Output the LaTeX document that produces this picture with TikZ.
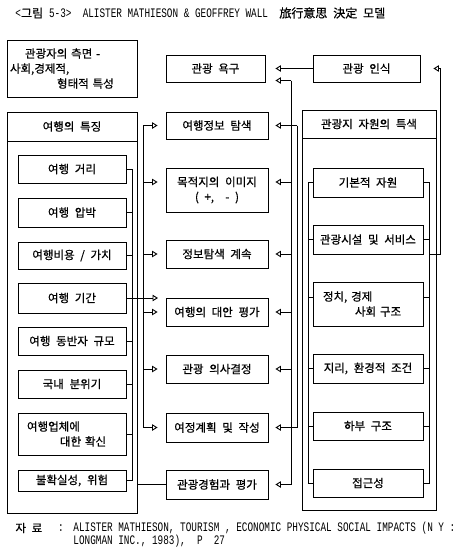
\documentclass[tikz,border=0pt]{standalone}
\usepackage{fontspec}
\usepackage{graphicx}
\setmainfont{Noto Sans CJK KR}[WordSpace=2.2, FakeBold=0.6]
\newfontfamily\latmono{Liberation Mono}
\usetikzlibrary{arrows.meta}
\newcommand{\latxt}[1]{\scalebox{0.72}[1]{\fontsize{13}{15}\selectfont\latmono #1}}

\begin{document}
\begin{tikzpicture}[x=1pt, y=-1pt, line width=0.9pt, font=\fontsize{11.5}{15}\selectfont,
  box/.style={draw, inner sep=0pt, align=center},
  lbox/.style={box, minimum width=108pt, minimum height=28pt},
  mbox/.style={box, minimum width=102pt, minimum height=28pt},
  rbox/.style={box, minimum width=110pt, minimum height=29pt},
  tip/.style={-{Triangle[open, length=5.5pt, width=6.5pt]}}]
  \useasboundingbox (0,0) rectangle (468,552);

  % title
  \node[anchor=west, inner sep=0pt, font=\fontsize{12}{14}\selectfont] (title) at (15,13)
    {\latxt{<}그림 \latxt{5-3>\ \ ALISTER MATHIESON \& GEOFFREY WALL\ \ }旅行意思 決定 모델};

  % top row
  \node[box, minimum width=130pt, minimum height=57pt, text width=124pt, align=left, inner xsep=3pt] (aspect) at (72,68.5)
    {\hspace*{15pt}관광자의 측면 -\\사회,경제적,\\\hspace*{47pt}형태적 특성};
  \node[box, minimum width=99pt, minimum height=27pt] (desire) at (215.5,68.5) {관광 욕구};
  \node[box, minimum width=107pt, minimum height=27pt] (percep) at (366.5,68.5) {관광 인식};

  % left column
  \node[box, minimum width=130pt, minimum height=401pt] (tframe) at (72,312.5) {};
  \node[box, minimum width=130pt, minimum height=29pt] (thead) at (72,126.5) {여행의 특징};
  \node[lbox] (t1) at (72,169) {여행 거리};
  \node[lbox, minimum height=29pt] (t2) at (72,212.5) {여행 압박};
  \node[lbox, minimum height=27pt] (t3) at (72,255.5) {여행비용 / 가치};
  \node[lbox, minimum height=30pt] (t4) at (72,298) {여행 기간};
  \node[lbox] (t5) at (72,341) {여행 동반자 규모};
  \node[lbox] (t6) at (72,384) {국내 분위기};
  \node[lbox, minimum height=42pt, text width=90pt, align=left, inner xsep=9pt] (t7) at (72,434)
    {여행업체에\\\hspace*{33pt}대한 확신};
  \node[lbox, minimum height=21pt] (t8) at (72,480.5) {불확실성, 위험};

  % middle column
  \node[mbox, minimum height=27pt] (m1) at (217,125.5) {여행정보 탐색};
  \node[mbox, minimum height=44pt] (m2) at (217,190) {목적지의 이미지\\( +,\ \ - )};
  \node[mbox] (m3) at (217,254) {정보탐색 계속};
  \node[mbox] (m4) at (217,312) {여행의 대안 평가};
  \node[mbox] (m5) at (217,369) {관광 의사결정};
  \node[mbox, minimum height=29pt] (m6) at (217,427.5) {여정계획 및 작성};
  \node[mbox, minimum height=29pt] (m7) at (217,484.5) {관광경험과 평가};

  % right column
  \node[box, minimum width=134pt, minimum height=400pt] (rframe) at (369,310) {};
  \node[box, minimum width=134pt, minimum height=28pt] (rhead) at (369,124) {관광지 자원의 특색};
  \node[rbox] (r1) at (368,182.5) {기본적 자원};
  \node[rbox] (r2) at (368,239.5) {관광시설 및 서비스};
  \node[rbox, minimum height=44pt, text width=90pt, align=left, inner xsep=10pt] (r3) at (368,304)
    {정치, 경제\\\hspace*{32pt}사회 구조};
  \node[rbox] (r4) at (368,368.5) {지리, 환경적 조건};
  \node[rbox, minimum height=28pt] (r5) at (368,426) {하부 구조};
  \node[rbox, minimum height=28pt] (r6) at (368,483) {접근성};

  % source
  \node[anchor=west, inner sep=0pt] (srclabel) at (15,528) {자 료};
  \node[inner sep=0pt] (srccolon) at (61,528) {\latxt{:}};
  \node[anchor=north west, inner sep=0pt, align=left, font=\fontsize{11}{11}\selectfont] (source) at (73,522)
    {\latxt{ALISTER MATHIESON, TOURISM , ECONOMIC PHYSICAL SOCIAL IMPACTS (N Y :}\\
     \latxt{LONGMAN INC., 1983),\ \ P\ \ 27}};

  % bus lines
  \coordinate (lbus) at (132,0);
  \coordinate (mlbus) at (143,0);
  \coordinate (abus) at (291,0);
  \coordinate (bbus) at (297,0);
  \coordinate (rbusL) at (308,0);
  \coordinate (rbusR) at (429,0);
  \coordinate (pjoin) at (440,254);
  \coordinate (t4tip) at (158,298);

  % travel features -> left bus
  \draw (t1.east) -- (t1.east -| lbus) -- (t8.east -| lbus) -- (t8.east);
  \draw (t2.east) -- (t2.east -| lbus);
  \draw (t3.east) -- (t3.east -| lbus);
  \draw (t5.east) -- (t5.east -| lbus);
  \draw (t6.east) -- (t6.east -| lbus);
  \draw (t7.east) -- (t7.east -| lbus);
  \draw[tip] (t4.east) -- (t4tip);
  \draw (tframe.east |- m7.west) -- (m7.west);

  % left bus -> decision steps
  \draw (m1.west -| mlbus) -- (m6.west -| mlbus);
  \draw[tip, shorten >=8pt] (m1.west -| mlbus) -- (m1.west);
  \draw[tip, shorten >=8pt] ([yshift=8pt]m2.west -| mlbus) -- ([yshift=8pt]m2.west);
  \draw[tip, shorten >=8pt] (m3.west -| mlbus) -- (m3.west);
  \draw[tip, shorten >=8pt] (m4.west -| mlbus) -- (m4.west);
  \draw[tip, shorten >=8pt] (m5.west -| mlbus) -- (m5.west);
  \draw[tip, shorten >=8pt] (m6.west -| mlbus) -- (m6.west);

  % perception and desire
  \draw[tip, shorten >=10pt] (percep.west) -- (desire.east);
  \draw[tip, shorten >=10pt] ([yshift=-12pt]desire.east -| abus) -- ([yshift=-12pt]desire.east);
  \draw ([yshift=-12pt]desire.east -| abus) -- (m7.east -| abus);
  \draw (m1.east -| bbus) -- (m6.east -| bbus);

  % right buses -> decision steps
  \draw[tip, shorten >=7pt] (m1.east -| bbus) -- (m1.east);
  \draw[tip, shorten >=7pt] ([yshift=8pt]m2.east -| abus) -- ([yshift=8pt]m2.east);
  \draw[tip, shorten >=7pt] (m3.east -| abus) -- (m3.east);
  \draw[tip, shorten >=7pt] (m4.east -| abus) -- (m4.east);
  \draw[tip, shorten >=7pt] (m5.east -| abus) -- (m5.east);
  \draw[tip, shorten >=7pt] (m6.east -| bbus) -- (m6.east);
  \draw[tip, shorten >=7pt] (m7.east -| abus) -- (m7.east);

  % resources
  \draw (r1.west) -- (r1.west -| rbusL) -- (r6.west -| rbusL) -- (r6.west);
  \draw (r2.west) -- (r2.west -| rbusL);
  \draw ([yshift=7pt]r3.west) -- ([yshift=7pt]r3.west -| rbusL);
  \draw (r4.west) -- (r4.west -| rbusL);
  \draw (r5.west) -- (r5.west -| rbusL);
  \draw (r1.east) -- (r1.east -| rbusR) -- (r6.east -| rbusR) -- (r6.east);
  \draw (r2.east) -- (r2.east -| rbusR);
  \draw ([yshift=7pt]r3.east) -- ([yshift=7pt]r3.east -| rbusR);
  \draw (r4.east) -- (r4.east -| rbusR);
  \draw (r5.east) -- (r5.east -| rbusR);
  \draw[tip, shorten >=13pt] (pjoin -| rbusR) -- (pjoin) |- (percep.east);
\end{tikzpicture}
\end{document}
